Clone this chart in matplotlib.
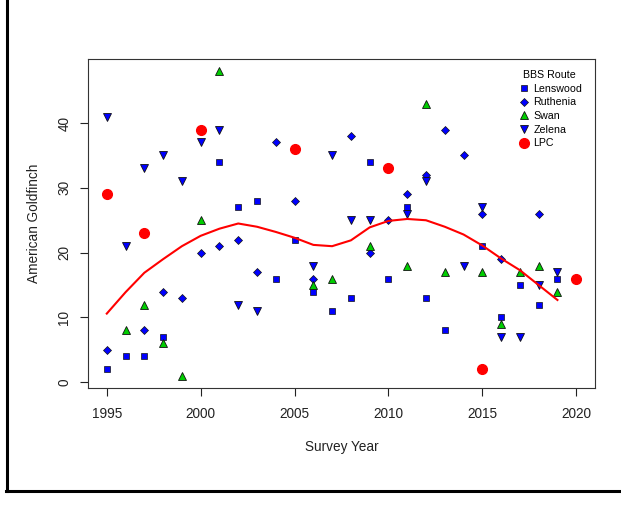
import matplotlib
matplotlib.use("Agg")
import matplotlib.pyplot as plt
from matplotlib.lines import Line2D

plt.rcParams['font.family'] = ['Liberation Sans', 'DejaVu Sans']

# counts per route
lens_years = [1995, 1996, 1997, 1998, 2001, 2002, 2003, 2004, 2005, 2006, 2007,
              2008, 2009, 2010, 2011, 2012, 2013, 2015, 2016, 2017, 2018, 2019]
lens_vals = [2, 4, 4, 7, 34, 27, 28, 16, 22, 14, 11, 13, 34, 16, 27, 13, 8, 21, 10, 15, 12, 16]

ruth_years = [1995, 1997, 1998, 1999, 2000, 2001, 2002, 2003, 2004, 2005, 2006,
              2008, 2009, 2010, 2011, 2012, 2013, 2014, 2015, 2016, 2018]
ruth_vals = [5, 8, 14, 13, 20, 21, 22, 17, 37, 28, 16, 38, 20, 25, 29, 32, 39, 35, 26, 19, 26]

swan_years = [1996, 1997, 1998, 1999, 2000, 2001, 2006, 2007, 2009, 2011, 2012,
              2013, 2015, 2016, 2017, 2018, 2019]
swan_vals = [8, 12, 6, 1, 25, 48, 15, 16, 21, 18, 43, 17, 17, 9, 17, 18, 14]

zel_years = [1995, 1996, 1997, 1998, 1999, 2000, 2001, 2002, 2003, 2006, 2007,
             2008, 2009, 2011, 2012, 2014, 2015, 2016, 2017, 2018, 2019]
zel_vals = [41, 21, 33, 35, 31, 37, 39, 12, 11, 18, 35, 25, 25, 26, 31, 18, 27, 7, 7, 15, 17]

lpc_years = [1995, 1997, 2000, 2005, 2010, 2015, 2020]
lpc_vals = [29, 23, 39, 36, 33, 2, 16]

# smoothed trend line
trend_years = list(range(1995, 2020))
trend_vals = [10.6, 13.9, 16.9, 19.0, 21.0, 22.6, 23.7, 24.5, 24.0, 23.2, 22.3, 21.2,
              21.0, 21.9, 23.9, 24.9, 25.2, 25.0, 24.0, 22.8, 21.1, 19.1, 17.3, 15.0, 12.7]

fig = plt.figure(figsize=(6.21, 5.07), dpi=100)
ax = fig.add_axes([88 / 621, 1 - 388 / 507, (595 - 88) / 621, (388 - 59) / 507])

ec = '#111111'
ax.plot(lens_years, lens_vals, 's', color='blue', mec=ec, mew=0.5, ms=3.8, label='Lenswood')
ax.plot(ruth_years, ruth_vals, 'D', color='blue', mec=ec, mew=0.5, ms=3.8, label='Ruthenia')
ax.plot(swan_years, swan_vals, '^', color='#00CD00', mec=ec, mew=0.6, ms=5.2, label='Swan')
ax.plot(zel_years, zel_vals, 'v', color='blue', mec=ec, mew=0.6, ms=5.2, label='Zelena')
ax.plot(lpc_years, lpc_vals, 'o', color='red', mec='red', ms=7, label='LPC')
ax.plot(trend_years, trend_vals, color='red', lw=1.5)

ax.set_xlim(1994, 2021)
ax.set_ylim(-0.88, 49.88)
ax.set_xticks([1995, 2000, 2005, 2010, 2015, 2020])
ax.set_yticks([0, 10, 20, 30, 40])
for lab in ax.get_yticklabels():
    lab.set_rotation(90)
    lab.set_va('center')
ax.tick_params(length=6, width=0.8, labelsize=9.8, colors='#222222', pad=6)
ax.tick_params(axis='x', pad=8)
for sp in ax.spines.values():
    sp.set_linewidth(0.8)
    sp.set_color('#333333')

ax.set_xlabel('Survey Year', fontsize=9.8, color='#222222', labelpad=13.5)
ax.set_ylabel('American Goldfinch', fontsize=9.8, color='#222222', labelpad=12)

leg = ax.legend(loc='upper right', bbox_to_anchor=(0.99, 0.99), frameon=False,
                title='BBS Route', fontsize=7.7, title_fontsize=7.7,
                handletextpad=0.1, labelspacing=0.35, handlelength=1.5,
                borderaxespad=0.3)

# outer frame (left and bottom edges)
fig.add_artist(Line2D([7 / 621, 7 / 621], [1.0, 1 - 490.5 / 507], color='black', lw=2.2,
                      transform=fig.transFigure))
fig.add_artist(Line2D([6 / 621, 1.0], [1 - 490.5 / 507, 1 - 490.5 / 507], color='black', lw=2.2,
                      transform=fig.transFigure))

fig.savefig('out.png', dpi=100)
